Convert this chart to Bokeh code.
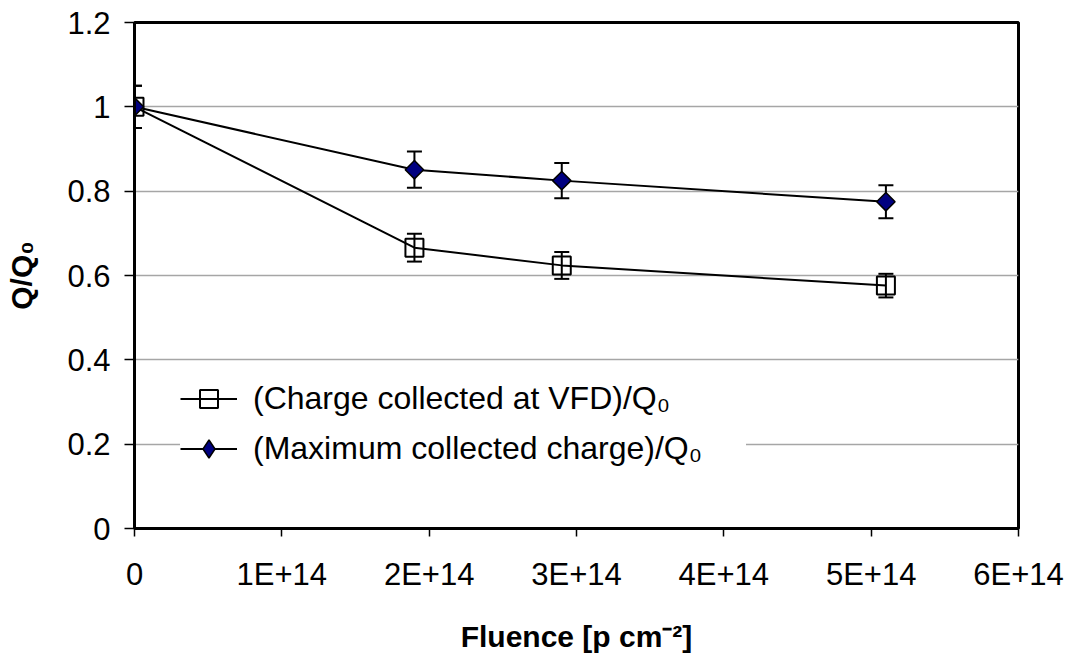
import math
from bokeh.plotting import figure
from bokeh.models import (Range1d, FixedTicker, CustomJSTickFormatter, Whisker,
                          ColumnDataSource, Legend, LegendItem, TeeHead)
from bokeh.embed import file_html
from bokeh.resources import INLINE

# ---- data ----
fluence = [0.0, 1.9e14, 2.9e14, 5.1e14]
q_vfd = [1.0, 0.666, 0.624, 0.576]
q_vfd_err = [0.05, 0.033, 0.032, 0.028]
q_max = [1.0, 0.851, 0.825, 0.775]
q_max_err = [0.05, 0.043, 0.042, 0.039]

label_vfd = "(Charge collected at VFD)/Q\u2080"
label_max = "(Maximum collected charge)/Q\u2080"

x_ticks = [0, 1e14, 2e14, 3e14, 4e14, 5e14, 6e14]
x_tick_labels = ["0", "1E+14", "2E+14", "3E+14", "4E+14", "5E+14", "6E+14"]
y_ticks = [0, 0.2, 0.4, 0.6, 0.8, 1.0, 1.2]
y_tick_labels = ["0", "0.2", "0.4", "0.6", "0.8", "1", "1.2"]

FONT = "Liberation Sans"

p = figure(width=1070, height=658, output_backend="svg", toolbar_location=None,
           x_range=Range1d(0, 6e14), y_range=Range1d(0, 1.2),
           min_border_left=134, min_border_right=52, min_border_top=22,
           min_border_bottom=130)
p.background_fill_color = "white"
p.border_fill_color = "white"
p.outline_line_color = "black"
p.outline_line_width = 3

# axes
for ax in (p.xaxis[0], p.yaxis[0]):
    ax.axis_line_color = "black"
    ax.axis_line_width = 3
    ax.major_tick_line_color = "black"
    ax.major_tick_line_width = 1.5
    ax.major_tick_in = 0
    ax.minor_tick_line_color = None
    ax.major_label_text_font = FONT
    ax.major_label_text_font_size = "31px"
    ax.major_label_text_color = "black"
    ax.axis_label_text_font = FONT
    ax.axis_label_text_font_size = "30px"
    ax.axis_label_text_font_style = "bold"
    ax.axis_label_text_color = "black"

p.xaxis.ticker = FixedTicker(ticks=x_ticks)
p.xaxis.formatter = CustomJSTickFormatter(args=dict(labels=x_tick_labels),
                                          code="return labels[index];")
p.yaxis.ticker = FixedTicker(ticks=y_ticks)
p.yaxis.formatter = CustomJSTickFormatter(args=dict(labels=y_tick_labels),
                                          code="return labels[index];")
p.xaxis.major_tick_out = 8
p.xaxis.major_label_standoff = 20
p.xaxis.axis_label = "Fluence [p cm\u207b\u00b2]"
p.xaxis.axis_label_standoff = 25
p.yaxis.major_tick_out = 10
p.yaxis.major_label_standoff = 14
p.yaxis.axis_label = "Q/Q\u2080"
p.yaxis.axis_label_standoff = 26

p.xgrid.grid_line_color = None
p.ygrid.grid_line_color = "#a6a6a6"
p.ygrid.grid_line_width = 1.5

src_vfd = ColumnDataSource(dict(x=fluence, y=q_vfd,
                                lo=[v - e for v, e in zip(q_vfd, q_vfd_err)],
                                hi=[v + e for v, e in zip(q_vfd, q_vfd_err)]))
src_max = ColumnDataSource(dict(x=fluence, y=q_max,
                                lo=[v - e for v, e in zip(q_max, q_max_err)],
                                hi=[v + e for v, e in zip(q_max, q_max_err)]))

l1 = p.line("x", "y", source=src_vfd, line_color="black", line_width=2)
l2 = p.line("x", "y", source=src_max, line_color="black", line_width=2)

for src in (src_vfd, src_max):
    w = Whisker(base="x", lower="lo", upper="hi", source=src, dimension="height",
                line_color="black", line_width=2,
                upper_head=TeeHead(size=15, line_color="black", line_width=2),
                lower_head=TeeHead(size=15, line_color="black", line_width=2))
    p.add_layout(w)

s1 = p.scatter("x", "y", source=src_vfd, marker="square", size=18,
               fill_alpha=0, line_color="black", line_width=2)
# diamond glyph used for the legend swatch (hidden under the rotated squares)
s2_leg = p.scatter("x", "y", source=src_max, marker="diamond", size=16,
                   fill_color="#000080", line_color="black", line_width=1.5)
s2 = p.scatter("x", "y", source=src_max, marker="square", size=13,
               angle=math.pi / 4, fill_color="#000080", line_color="black",
               line_width=1.5)

legend = Legend(items=[LegendItem(label=label_vfd, renderers=[l1, s1]),
                       LegendItem(label=label_max, renderers=[l2, s2_leg])],
                location=(46, 57), margin=0, padding=18, spacing=5,
                glyph_width=57, glyph_height=45, label_height=45,
                label_width=493, label_standoff=16,
                label_text_font=FONT, label_text_font_size="32px",
                label_text_color="black",
                background_fill_color="white", background_fill_alpha=1,
                border_line_color=None)
p.add_layout(legend)

open("out.html", "w").write(file_html(p, INLINE))
